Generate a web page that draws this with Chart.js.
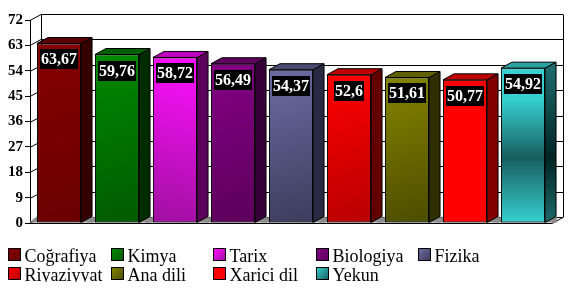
<!DOCTYPE html>
<html>
<head>
<meta charset="utf-8">
<script src="https://cdn.jsdelivr.net/npm/chart.js@4.4.1/dist/chart.umd.min.js"></script>
<style>
  html, body { margin: 0; padding: 0; background: #fff; }
  .wrap { position: relative; width: 573px; height: 294px; }
</style>
</head>
<body>
<div class="wrap"><canvas id="chart"></canvas></div>
<script>
// data
const labels = ['Coğrafiya', 'Kimya', 'Tarix', 'Biologiya', 'Fizika', 'Riyaziyyat', 'Ana dili', 'Xarici dil', 'Yekun'];
const values = [63.67, 59.76, 58.72, 56.49, 54.37, 52.6, 51.61, 50.77, 54.92];
const yMin = 0, yMax = 72, yStep = 9;

// colours: front light / front dark / side / top
const frontLight = ['#850000', '#008a00', '#ff10ff', '#840084', '#6c6ca4', '#ff0000', '#858500', '#ff0000', '#36d0d0'];
const frontDark  = ['#6a0000', '#005a00', '#a010a0', '#5c005c', '#3c3c5c', '#b80000', '#4c4c00', '#ff0000', '#185e5e'];
const sideColor  = ['#350000', '#002c00', '#5a005a', '#380038', '#2a2a42', '#620000', '#2e2e00', '#800000', '#1a6262'];
const topColor   = ['#5a0000', '#006000', '#c000c0', '#600060', '#4a4a70', '#c00000', '#606000', '#c00000', '#2aa0a0'];

const DX = 11, DY = 6;
const FONT = '"Liberation Serif", "Times New Roman", serif';

function fmt(v) { return String(v).replace('.', ','); }

function frontFill(c) {
  const chart = c.chart, i = c.dataIndex;
  if (!chart.chartArea || i === undefined) return frontLight[i] || '#888';
  const xs = chart.scales.x, ys = chart.scales.y;
  const cx = xs.getPixelForValue(i);
  const half = 22;
  const top = ys.getPixelForValue(values[i]), bot = ys.getPixelForValue(0);
  let g;
  if (i === 8) {
    g = chart.ctx.createLinearGradient(0, top, 0, bot);
    g.addColorStop(0, frontLight[i]);
    g.addColorStop(0.2, frontLight[i]);
    g.addColorStop(0.58, frontDark[i]);
    g.addColorStop(1, frontLight[i]);
  } else if (i === 2) {
    g = chart.ctx.createLinearGradient(cx + half, top, cx - half, bot);
    g.addColorStop(0, frontLight[i]);
    g.addColorStop(1, frontDark[i]);
  } else {
    g = chart.ctx.createLinearGradient(cx - half, top, cx + half, bot);
    g.addColorStop(0, frontLight[i]);
    g.addColorStop(1, frontDark[i]);
  }
  return g;
}

function poly(ctx, pts, fill) {
  ctx.beginPath();
  ctx.moveTo(pts[0][0], pts[0][1]);
  for (let k = 1; k < pts.length; k++) ctx.lineTo(pts[k][0], pts[k][1]);
  ctx.closePath();
  if (fill) { ctx.fillStyle = fill; ctx.fill(); }
  ctx.stroke();
}

// back walls, grid and floor shadows
const wallPlugin = {
  id: 'walls',
  beforeDatasetsDraw(chart) {
    const ctx = chart.ctx, a = chart.chartArea, ys = chart.scales.y;
    ctx.save();
    ctx.strokeStyle = '#000';
    ctx.lineWidth = 1;
    ys.ticks.forEach(t => {
      const py = Math.round(ys.getPixelForValue(t.value)) + 0.5;
      ctx.beginPath();
      ctx.moveTo(a.left, py);
      ctx.lineTo(a.left + DX, py - DY);
      ctx.lineTo(a.right + DX, py - DY);
      ctx.stroke();
    });
    const top = Math.round(a.top) + 0.5 - DY, bot = Math.round(a.bottom) + 0.5 - DY;
    ctx.beginPath();
    ctx.moveTo(a.left + DX + 0.5, top); ctx.lineTo(a.left + DX + 0.5, bot);
    ctx.moveTo(a.right + DX + 0.5, top); ctx.lineTo(a.right + DX + 0.5, bot);
    ctx.moveTo(a.left, Math.round(a.bottom) + 0.5); ctx.lineTo(a.right, Math.round(a.bottom) + 0.5);
    ctx.lineTo(a.right + DX, Math.round(a.bottom) + 0.5 - DY);
    ctx.stroke();
    // floor shadows
    const meta = chart.getDatasetMeta(0);
    ctx.fillStyle = '#8c8c8c';
    meta.data.forEach(el => {
      const l = el.x - el.width / 2, r = el.x + el.width / 2, b = el.base;
      ctx.beginPath();
      ctx.moveTo(l - 8, b); ctx.lineTo(r + DX + 1, b); ctx.lineTo(r + DX + 1, b - DY); ctx.lineTo(l, b - DY);
      ctx.closePath();
      ctx.fill();
    });
    ctx.restore();
  },
  afterDatasetsDraw(chart) {
    const ctx = chart.ctx;
    const meta = chart.getDatasetMeta(0);
    ctx.save();
    ctx.strokeStyle = '#000';
    ctx.lineWidth = 1;
    meta.data.forEach((el, i) => {
      const l = el.x - el.width / 2, r = el.x + el.width / 2, t = el.y, b = el.base;
      let sf = sideColor[i];
      if (i === 8) {
        sf = ctx.createLinearGradient(0, t, 0, b);
        sf.addColorStop(0, '#1e6a6a');
        sf.addColorStop(0.58, '#002424');
        sf.addColorStop(1, '#1e6a6a');
      }
      poly(ctx, [[r, t], [r + DX, t - DY], [r + DX, b - DY], [r, b]], sf);
      poly(ctx, [[l, t], [l + DX, t - DY], [r + DX, t - DY], [r, t]], topColor[i]);
    });
    // value labels
    ctx.font = 'bold 16px ' + FONT;
    ctx.textAlign = 'center';
    ctx.textBaseline = 'middle';
    meta.data.forEach((el, i) => {
      const txt = fmt(values[i]);
      const w = Math.ceil(ctx.measureText(txt).width) + 2;
      const cy = Math.round(el.y + 16);
      ctx.fillStyle = '#000';
      ctx.fillRect(Math.round(el.x - w / 2), cy - 10, w, 20);
      ctx.fillStyle = '#fff';
      ctx.fillText(txt, el.x, cy + 1);
    });
    ctx.restore();
  },
  afterDraw(chart) {
    // legend: 5 columns, 2 rows, bottom clipped like the original
    const ctx = chart.ctx;
    ctx.save();
    ctx.beginPath();
    ctx.rect(0, 240, 573, 42);
    ctx.clip();
    ctx.font = '18px ' + FONT;
    ctx.textAlign = 'left';
    ctx.textBaseline = 'alphabetic';
    labels.forEach((lab, i) => {
      const col = i % 5, row = Math.floor(i / 5);
      const bx = 8.5 + Math.round(col * 102.6), by = 248.5 + row * 19;
      const g = ctx.createLinearGradient(bx, by, bx + 12, by + 12);
      g.addColorStop(0, frontLight[i]);
      g.addColorStop(1, frontDark[i]);
      ctx.fillStyle = g;
      ctx.fillRect(bx, by, 12, 12);
      ctx.strokeStyle = '#000';
      ctx.lineWidth = 1;
      ctx.strokeRect(bx, by, 12, 12);
      ctx.fillStyle = '#000';
      ctx.fillText(lab, bx + 16, by + 13);
    });
    ctx.restore();
  }
};

new Chart(document.getElementById('chart'), {
  type: 'bar',
  data: {
    labels: labels,
    datasets: [{
      data: values,
      backgroundColor: frontFill,
      borderColor: '#000',
      borderWidth: 1,
      borderSkipped: false,
      categoryPercentage: 1,
      barPercentage: 0.76
    }]
  },
  options: {
    responsive: true,
    maintainAspectRatio: false,
    animation: false,
    layout: { padding: { top: 20, right: 21, bottom: 71, left: 0 } },
    plugins: { legend: { display: false }, tooltip: { enabled: false } },
    scales: {
      x: { display: false },
      y: {
        min: yMin,
        max: yMax,
        afterFit(scale) { scale.width = 30; },
        ticks: {
          stepSize: yStep,
          color: '#000',
          padding: 2,
          font: { family: FONT, size: 15, weight: 'bold' }
        },
        grid: { drawOnChartArea: false, drawTicks: true, tickLength: 5, color: '#000' },
        border: { display: true, color: '#000' }
      }
    }
  },
  plugins: [wallPlugin]
});
</script>
</body>
</html>
